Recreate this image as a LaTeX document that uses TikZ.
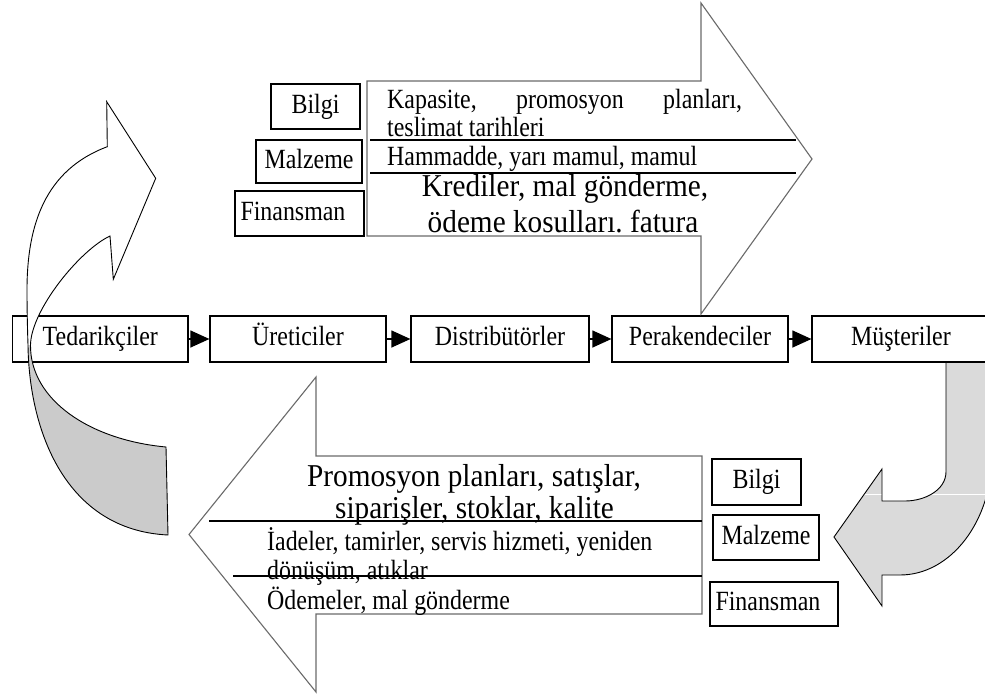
\documentclass[tikz,border=0pt]{standalone}
\usepackage{fontspec}
\setmainfont{Liberation Serif}[FakeStretch=0.86]
\newfontfamily\wideserif{Liberation Serif}[FakeStretch=0.92]
\usetikzlibrary{arrows.meta}
\frenchspacing

\definecolor{outlinegrey}{HTML}{6A6A6A}
\definecolor{backgrey}{HTML}{CBCBCB}
\definecolor{returngrey}{HTML}{DADADA}
\newcommand\txtsize[1]{\fontsize{#1pt}{#1pt}\selectfont}

% Outlines of the two large flow arrows and the two curved arrows
\def\forwardarrow{(367,81) -- (701,81) -- (701,3) -- (812,159) -- (701,314) -- (701,236) -- (367,236) -- cycle}
\def\returnarrow{(702,456) -- (316,456) -- (316,377) -- (189,534.5) -- (316,692) -- (316,614) -- (702,614) -- cycle}
\def\cyclearrow{(110,236) -- (113.3,279.3) -- (155.7,178.3) -- (106.7,101.7) -- (107.3,146.7)
  .. controls (45,170) and (27,225) .. (27,290)
  .. controls (27,310) and (27.5,330) .. (28,345)
  .. controls (29,430) and (65,530) .. (168,535) -- (166,447)
  .. controls (90,440) and (30,400) .. (30.5,345)
  .. controls (31,310) and (80,250) .. (110,236) -- cycle}
\def\cycleback{(28,345) .. controls (29,430) and (65,530) .. (168,535) -- (166,447)
  .. controls (90,440) and (30,400) .. (30.5,345) -- cycle}
\def\customerarrow{(946,362) -- (946,471.7) .. controls (946,490) and (925,501) .. (905,501)
  -- (882,501) -- (882,469) -- (834,537) -- (882,606) -- (882,575) -- (900,575)
  .. controls (950.8,575) and (992,521.3) .. (992,455) -- (992,362) -- cycle}

\begin{document}
\begin{tikzpicture}[x=1pt,y=-1pt,
  rowbox/.style={draw, line width=1.2pt, minimum height=46pt, inner sep=0pt,
    text height=19pt, text depth=6pt, font=\txtsize{27.8}},
  tagbox/.style={draw, line width=1.2pt, inner sep=0pt,
    text height=19pt, text depth=6pt, font=\txtsize{27.8}},
  flowarrow/.style={draw=outlinegrey, line width=1.1pt, fill=white, line join=miter},
  bodytext/.style={inner sep=0pt, font=\txtsize{27.8}},
  bigtext/.style={inner sep=0pt, font=\wideserif\txtsize{31.8}},
  divider/.style={line width=1.2pt},
  link/.style={line width=1.2pt, -{Triangle[length=19pt,width=17pt]}},
  curvedarrow/.style={draw=black, line width=0.9pt}]

\useasboundingbox (0,0) rectangle (985,696);

% supply chain row
\node[rowbox, minimum width=175.5pt] (ted) at (100.3,339) {Tedarikçiler};
\node[rowbox, minimum width=176pt] (ure) at (298,339) {Üreticiler};
\node[rowbox, minimum width=178pt] (dis) at (500,339) {Distribütörler};
\node[rowbox, minimum width=176pt] (per) at (700,339) {Perakendeciler};

% return loop from the customers (drawn below the customer box)
\fill[returngrey] \customerarrow;
\begin{scope}
  \clip \customerarrow;
  \draw[white, line width=0.8pt] (820,494) -- (995,494);
\end{scope}
\draw[curvedarrow] \customerarrow;
\node[rowbox, minimum width=178pt] (mus) at (901,339) {Müşteriler};

% large forward flow arrow
\path[flowarrow] \forwardarrow;
\begin{scope}
  \clip \forwardarrow;
  \node[bodytext, anchor=base west] (kap) at (387,108) {\makebox[355pt][s]{Kapasite, promosyon planları,}};
  \node[bodytext, anchor=base west] (tes) at (387,136) {teslimat tarihleri};
  \node[bodytext, anchor=base west] (ham) at (387,165.5) {Hammadde, yarı mamul, mamul};
  \node[bigtext, anchor=base] (kre) at (565,196.5) {Krediler, mal gönderme,};
  \node[bigtext, anchor=base] (ode) at (563,232) {ödeme kosulları. fatura};
\end{scope}
\draw[divider] (370,140) -- (796,140);
\draw[divider] (370,173) -- (796,173);

% large return flow arrow
\path[flowarrow] \returnarrow;
\begin{scope}
  \clip \returnarrow;
  \node[bigtext, anchor=base] (pro) at (474,486.5) {Promosyon planları, satışlar,};
  \node[bigtext, anchor=base] (sip) at (474.5,518) {siparişler, stoklar, kalite};
  \node[bodytext, anchor=base west] (iad) at (267,550.5) {İadeler, tamirler, servis hizmeti, yeniden};
  \node[bodytext, anchor=base west] (don) at (267,579) {dönüşüm, atıklar};
  \node[bodytext, anchor=base west] (odm) at (267,609) {Ödemeler, mal gönderme};
\end{scope}
\draw[divider] (209,521) -- (702,521);
\draw[divider] (233,576) -- (702,576);

% flow type labels
\node[tagbox, minimum width=89pt, minimum height=45pt] (bilgiA) at (315.5,106.5) {Bilgi};
\node[tagbox, minimum width=106pt, minimum height=43pt] (malzA) at (309,161.5) {Malzeme};
\node[tagbox, minimum width=129pt, minimum height=45pt, text width=118pt, align=left] (finA) at (299.5,213.5) {Finansman};
\node[tagbox, minimum width=89pt, minimum height=46pt] (bilgiB) at (756.5,482) {Bilgi};
\node[tagbox, minimum width=106pt, minimum height=45pt] (malzB) at (766,537.5) {Malzeme};
\node[tagbox, minimum width=128pt, minimum height=44pt, text width=117pt, align=left] (finB) at (774,604) {Finansman};

% loop back towards the suppliers
\fill[white] \cyclearrow;
\fill[backgrey] \cycleback;
\draw[curvedarrow] \cyclearrow;

% links along the chain
\draw[link] (ted) -- (ure);
\draw[link] (ure) -- (dis);
\draw[link] (dis) -- (per);
\draw[link] (per) -- (mus);
\end{tikzpicture}
\end{document}
